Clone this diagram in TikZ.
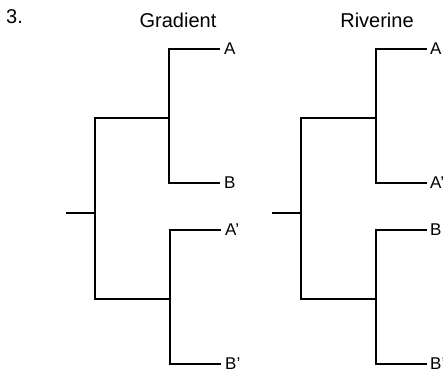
\documentclass[tikz,border=0pt]{standalone}
\usepackage{fontspec}
\setmainfont{Liberation Sans}
\begin{document}
\begin{tikzpicture}[x=1pt,y=1pt,
  branch/.style={line width=1.3pt, line cap=rect},
  lbl/.style={font=\fontsize{17}{20}\selectfont, inner sep=0pt},
  ttl/.style={font=\fontsize{20}{24}\selectfont, inner sep=0pt},
  leaf/.style={lbl, anchor=west}]
\useasboundingbox (0,0) rectangle (443,373);
% titles
\node[ttl, anchor=west] (num) at (6,356) {3.};
\node[ttl] (tg) at (178,353) {Gradient};
\node[ttl] (tr) at (377,353) {Riverine};
% left tree
\coordinate (lr0) at (67,160);
\coordinate (lr) at (95,160);
\coordinate (lu) at (169,255);
\coordinate (ll) at (170,74);
\node[leaf] (lA) at (224,324) {A};
\node[leaf] (lB) at (224,190) {B};
\node[leaf] (lAp) at (225,143) {A'};
\node[leaf] (lBp) at (225,9) {B'};
\draw[branch] (lr0) -- (lr);
\draw[branch] (lr |- lu) -- (lr |- ll);
\draw[branch] (lr |- lu) -- (lu);
\draw[branch] (lr |- ll) -- (ll);
\draw[branch] (lu |- lA) -- (lu |- lB);
\draw[branch] (lu |- lA) -- ([xshift=-5pt]lA.west);
\draw[branch] (lu |- lB) -- ([xshift=-5pt]lB.west);
\draw[branch] (ll |- lAp) -- (ll |- lBp);
\draw[branch] (ll |- lAp) -- ([xshift=-5pt]lAp.west);
\draw[branch] (ll |- lBp) -- ([xshift=-5pt]lBp.west);
% right tree
\coordinate (rr0) at (273,160);
\coordinate (rr) at (301,160);
\coordinate (ru) at (376,255);
\coordinate (rl) at (376,74);
\node[leaf] (rA) at (430,324) {A};
\node[leaf] (rAp) at (430,190) {A'};
\node[leaf] (rB) at (430,143) {B};
\node[leaf] (rBp) at (430,9) {B'};
\draw[branch] (rr0) -- (rr);
\draw[branch] (rr |- ru) -- (rr |- rl);
\draw[branch] (rr |- ru) -- (ru);
\draw[branch] (rr |- rl) -- (rl);
\draw[branch] (ru |- rA) -- (ru |- rAp);
\draw[branch] (ru |- rA) -- ([xshift=-4pt]rA.west);
\draw[branch] (ru |- rAp) -- ([xshift=-4pt]rAp.west);
\draw[branch] (rl |- rB) -- (rl |- rBp);
\draw[branch] (rl |- rB) -- ([xshift=-4pt]rB.west);
\draw[branch] (rl |- rBp) -- ([xshift=-4pt]rBp.west);
\end{tikzpicture}
\end{document}
